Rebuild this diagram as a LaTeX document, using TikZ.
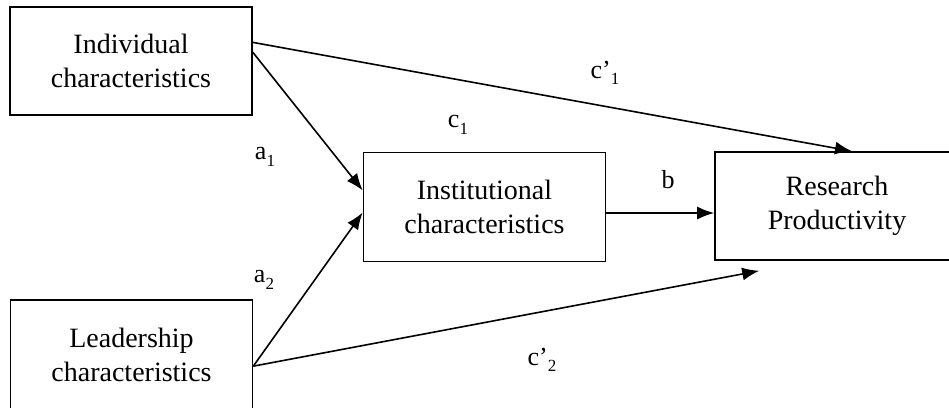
\documentclass[tikz,border=0pt]{standalone}
\usepackage{fontspec}
\setmainfont{Liberation Serif}
\usepackage{tikz}
\usetikzlibrary{arrows.meta,calc}
\newcommand{\idx}[1]{\raisebox{-0.55ex}{\fontsize{17}{17}\selectfont #1}}
\begin{document}
\begin{tikzpicture}[x=1pt,y=-1pt,>={Latex[length=17pt,width=13pt]},line width=1.6pt,
  box/.style={draw,align=center,font=\fontsize{28}{34}\selectfont,inner sep=0pt,minimum height=108pt,minimum width=242pt},
  path/.style={font=\fontsize{26}{30}\selectfont,inner sep=0pt}]
\useasboundingbox (0,0) rectangle (949,407);
\node[box] (ind) at (131,61) {Individual\\characteristics};
\node[box,minimum height=110pt] (lead) at (131.5,355) {Leadership\\characteristics};
\node[box,minimum height=109pt] (inst) at (484.5,207) {Institutional\\characteristics};
\node[box,minimum width=244pt] (rp) at (837,206) {Research\\Productivity};
\coordinate (below) at ($(rp.south west)+(45,10)$);
% paths
\draw[->] ($(ind.north east)!0.33!(ind.south east)$) -- ($(rp.north)+(15,0)$);
\draw[->] ($(ind.north east)!0.42!(ind.south east)$) -- ($(inst.north west)!0.35!(inst.south west)$);
\draw[->] ($(lead.north east)!0.6!(lead.south east)$) -- ($(inst.north west)!0.55!(inst.south west)$);
\draw[->] ($(lead.north east)!0.6!(lead.south east)$) -- (below);
\draw[->] (inst.east |- 0,213) -- (rp.west |- 0,213);
% labels
\node[path] (cp1) at (605,73) {c’\idx{1}};
\node[path] (c1) at (458,125) {c\idx{1}};
\node[path] (a1) at (265,157) {a\idx{1}};
\node[path] (a2) at (264,280) {a\idx{2}};
\node[path] (b) at (668,180) {b};
\node[path] (cp2) at (542,360) {c’\idx{2}};
\end{tikzpicture}
\end{document}
